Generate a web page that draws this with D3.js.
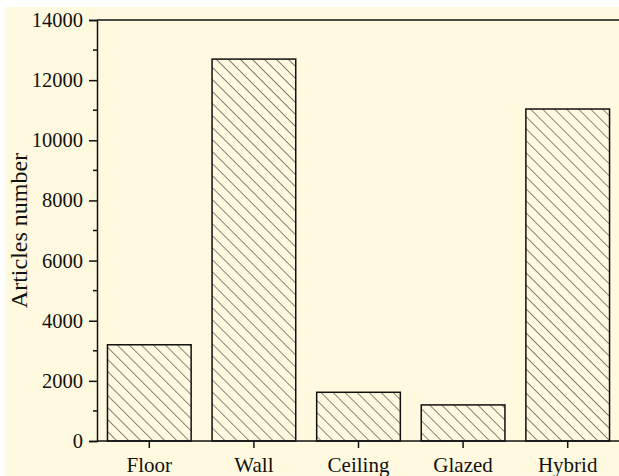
<!DOCTYPE html>
<html>
<head>
<meta charset="utf-8">
<script src="https://cdn.jsdelivr.net/npm/d3@7"></script>
<style>
  html, body { margin: 0; padding: 0; background: #ffffff; }
  svg { display: block; }
  text { font-family: "Liberation Serif", "Times New Roman", serif; fill: #111; }
</style>
</head>
<body>
<svg id="chart" width="619" height="476"></svg>
<script>
// Publication counts per envelope element
const categories = ["Floor", "Wall", "Ceiling", "Glazed", "Hybrid"];
const articleCounts = [3200, 12700, 1620, 1200, 11040];
const yTickValues = [0, 2000, 4000, 6000, 8000, 10000, 12000, 14000];
const yMinorValues = [1000, 3000, 5000, 7000, 9000, 11000, 13000];
const yAxisTitle = "Articles number";

const W = 619, H = 476;
const margin = { left: 97, top: 20, right: -1, bottom: 35 };
const plotRight = W - margin.right;
const plotBottom = H - margin.bottom;

const svg = d3.select("#chart");

// page background
svg.append("rect").attr("x", 5).attr("y", 7).attr("width", W - 5).attr("height", H - 7)
  .attr("fill", "#fffadf");

// diagonal hatch fill (top-left to bottom-right)
const defs = svg.append("defs");
const pat = defs.append("pattern")
  .attr("id", "hatch")
  .attr("patternUnits", "userSpaceOnUse")
  .attr("width", 8.5).attr("height", 8.5)
  .attr("patternTransform", "rotate(-45)");
pat.append("rect").attr("width", 8.5).attr("height", 8.5).attr("fill", "#fffadf");
pat.append("line").attr("x1", 0).attr("y1", 0).attr("x2", 0).attr("y2", 8.5)
  .attr("stroke", "#222").attr("stroke-width", 1.1);

const x = d3.scaleBand().domain(categories).range([margin.left, plotRight])
  .paddingInner(0.2).paddingOuter(0.1);
const y = d3.scaleLinear().domain([0, 14000]).range([plotBottom, margin.top]);

// bars
svg.append("g").selectAll("rect").data(categories).join("rect")
  .attr("x", d => x(d))
  .attr("width", x.bandwidth())
  .attr("y", (d, i) => y(articleCounts[i]))
  .attr("height", (d, i) => y(0) - y(articleCounts[i]))
  .attr("fill", "url(#hatch)")
  .attr("stroke", "#111").attr("stroke-width", 1.5);

// top frame line
svg.append("line").attr("x1", margin.left).attr("x2", W).attr("y1", y(14000)).attr("y2", y(14000))
  .attr("stroke", "#111").attr("stroke-width", 1.5);

// y axis
const yAxis = svg.append("g").attr("transform", `translate(${margin.left},0)`)
  .call(d3.axisLeft(y).tickValues(yTickValues).tickSize(8).tickPadding(6).tickFormat(d3.format("d")));
yAxis.append("g").selectAll("line").data(yMinorValues).join("line")
  .attr("x1", -4).attr("x2", 0).attr("y1", d => y(d)).attr("y2", d => y(d))
  .attr("stroke", "#111").attr("stroke-width", 1.5);

// x axis
const xAxis = svg.append("g").attr("transform", `translate(0,${plotBottom})`)
  .call(d3.axisBottom(x).tickSize(7).tickPadding(9).tickSizeOuter(0));
xAxis.select(".domain").attr("d", `M${margin.left},0H${W}`);

svg.selectAll(".domain").attr("stroke", "#111").attr("stroke-width", 1.5);
svg.selectAll(".tick line").attr("stroke", "#111").attr("stroke-width", 1.5);
svg.selectAll(".tick text").attr("font-size", 20.5).attr("font-family", "Liberation Serif, serif").attr("fill", "#111");
xAxis.selectAll(".tick text").attr("font-size", 21);

// y axis title
svg.append("text")
  .attr("transform", `translate(27,${(margin.top + plotBottom) / 2}) rotate(-90)`)
  .attr("text-anchor", "middle")
  .attr("font-size", 24)
  .text(yAxisTitle);
</script>
</body>
</html>
